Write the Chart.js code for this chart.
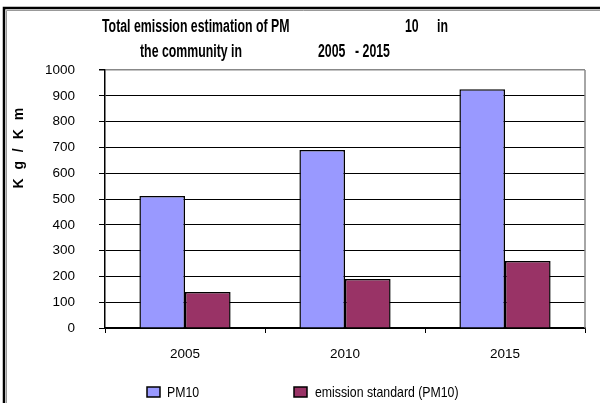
<!DOCTYPE html>
<html>
<head>
<meta charset="utf-8">
<script src="https://cdn.jsdelivr.net/npm/chart.js@4"></script>
<style>
  body { margin: 0; background: #fff; }
  #wrap { width: 600px; height: 403px; position: relative; }
</style>
</head>
<body>
<div id="wrap"><canvas id="canvas" width="600" height="403"></canvas></div>
<script>
//****DATA****//

var years = ['2005', '2010', '2015'];
var pm10 = [512, 690, 925];
var emissionStandard = [140, 190, 260];
var seriesNames = ['PM10', 'emission standard (PM10)'];
var titleLine1 = ['Total emission estimation of PM', '10', 'in'];
var titleLine2 = ['the community in', '2005', '- 2015'];
var yTitle = 'K g / K m';

var FONT = '"Liberation Sans", Arial, sans-serif';

//****PLUGINS****//

// narrow-looking text: squeeze horizontally
function narrowText(ctx, text, x, y, squeeze) {
  ctx.save();
  ctx.translate(x, y);
  ctx.scale(squeeze, 1);
  ctx.fillText(text, 0, 0);
  ctx.restore();
}

var frame = {
  id: 'frame',
  beforeDraw: function (chart) {
    var ctx = chart.ctx;
    ctx.save();
    ctx.fillStyle = '#fff';
    ctx.fillRect(0, 0, chart.width, chart.height);
    ctx.restore();
  },
  afterDraw: function (chart) {
    var ctx = chart.ctx;
    var a = chart.chartArea;
    ctx.save();
    // outer frame (left + top)
    ctx.strokeStyle = '#000';
    ctx.lineWidth = 2.5;
    ctx.beginPath();
    ctx.moveTo(4, 403);
    ctx.lineTo(4, 8);
    ctx.lineTo(600, 8);
    ctx.stroke();
    ctx.strokeStyle = '#999';
    ctx.lineWidth = 1;
    ctx.beginPath();
    ctx.moveTo(6.5, 403);
    ctx.lineTo(6.5, 10.5);
    ctx.lineTo(600, 10.5);
    ctx.stroke();

    // plot right edge
    ctx.strokeStyle = '#888';
    ctx.lineWidth = 1.5;
    ctx.beginPath();
    ctx.moveTo(a.right, a.top);
    ctx.lineTo(a.right, a.bottom);
    ctx.stroke();

    // title
    ctx.fillStyle = '#000';
    ctx.font = 'bold 18px ' + FONT;
    ctx.textBaseline = 'alphabetic';
    ctx.textAlign = 'left';
    narrowText(ctx, titleLine1[0], 102, 32, 0.685);
    narrowText(ctx, titleLine1[1], 405, 32, 0.685);
    narrowText(ctx, titleLine1[2], 437, 32, 0.685);
    narrowText(ctx, titleLine2[0], 140, 57, 0.685);
    narrowText(ctx, titleLine2[1], 318, 57, 0.685);
    narrowText(ctx, titleLine2[2], 355, 57, 0.685);

    // legend
    var items = chart.data.datasets;
    var boxX = [147, 294];
    var textX = [167, 315];
    ctx.font = '15px ' + FONT;
    ctx.textBaseline = 'middle';
    for (var i = 0; i < items.length; i++) {
      ctx.fillStyle = items[i].backgroundColor;
      ctx.fillRect(boxX[i], 387, 13, 10);
      ctx.strokeStyle = '#000';
      ctx.lineWidth = 1.5;
      ctx.strokeRect(boxX[i], 387, 13, 10);
      ctx.fillStyle = '#000';
      narrowText(ctx, items[i].label, textX[i], 393, 0.82);
    }

    // y axis title
    ctx.font = 'bold 14px ' + FONT;
    ctx.translate(19, 147);
    ctx.rotate(-Math.PI / 2);
    ctx.textAlign = 'center';
    ctx.textBaseline = 'middle';
    ctx.letterSpacing = '2.5px';
    ctx.fillText(yTitle, 0, 0);
    ctx.restore();
  }
};

//****CHART****//

var ctx = document.getElementById('canvas').getContext('2d');

var chart = new Chart(ctx, {
  type: 'bar',
  data: {
    labels: years,
    datasets: [
      {
        label: seriesNames[0],
        data: pm10,
        backgroundColor: '#9999ff',
        borderColor: '#000',
        borderWidth: 1.5
      },
      {
        label: seriesNames[1],
        data: emissionStandard,
        backgroundColor: '#993366',
        borderColor: '#000',
        borderWidth: 1.5
      }
    ]
  },
  options: {
    responsive: false,
    animation: false,
    devicePixelRatio: 1,
    layout: { padding: { left: 20, right: 15, top: 70, bottom: 2 } },
    datasets: {
      bar: { categoryPercentage: 0.57, barPercentage: 1 }
    },
    scales: {
      x: {
        grid: {
          drawOnChartArea: false,
          color: '#000',
          tickLength: 5
        },
        border: { color: '#000', width: 1.5 },
        ticks: { color: '#000', padding: 13, font: { family: FONT, size: 13.5 } },
        afterFit: function (s) { s.height = 73; }
      },
      y: {
        min: 0,
        max: 1000,
        ticks: {
          stepSize: 100,
          autoSkip: false,
          color: '#000',
          padding: 24,
          font: { family: FONT, size: 13.5 },
          callback: function (v) { return String(v); }
        },
        grid: {
          color: function (c) { return c.tick && c.tick.value === 1000 ? '#888' : '#000'; },
          lineWidth: function (c) { return c.tick && c.tick.value === 1000 ? 1.5 : 1; },
          tickColor: '#000',
          tickLength: 6
        },
        border: { color: '#000', width: 1.5 },
        afterFit: function (s) { s.width = 85; }
      }
    },
    plugins: {
      title: { display: false },
      tooltip: { enabled: false },
      legend: { display: false }
    }
  },
  plugins: [frame]
});
</script>
</body>
</html>
